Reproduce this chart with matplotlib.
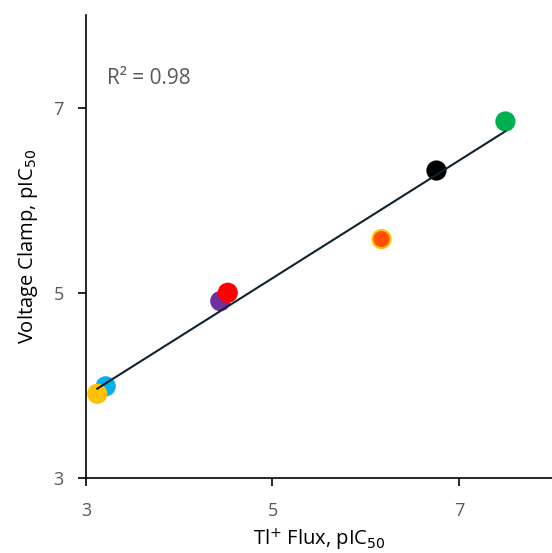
import numpy as np
import matplotlib.pyplot as plt

# pIC50 values
tl_flux = [3.21, 3.12, 4.44, 4.52, 6.17, 6.76, 7.50]
v_clamp = [3.99, 3.91, 4.91, 5.00, 5.58, 6.32, 6.85]
colors = ['#00b0f0', '#ffc000', '#7030a0', '#ff0000', '#ff5000', '#000000', '#00b050']
edges = ['#00b0f0', '#ffc000', '#7030a0', '#ff0000', '#ffc000', '#000000', '#00b050']
r2_label = 'R² = 0.98'

plt.rcParams['font.family'] = ['Open Sans', 'DejaVu Sans']

fig = plt.figure(figsize=(5.52, 5.53), dpi=100)
ax = fig.add_axes([0.156, 0.1356, 0.844, 0.8374])

x = np.array(tl_flux)
y = np.array(v_clamp)
ax.scatter(x, y, s=170, c=colors, edgecolors=edges, linewidths=1.5, zorder=2)

# linear fit over data range
k, b = np.polyfit(x, y, 1)
xs = np.array([x.min(), x.max()])
ax.plot(xs, k * xs + b, color='#10222e', lw=1.5, zorder=3)

ax.set_xlim(3, 8)
ax.set_ylim(3, 8)
ax.set_xticks([3, 5, 7])
ax.set_yticks([3, 5, 7])
for s in ['top', 'right']:
    ax.spines[s].set_visible(False)
for s in ['left', 'bottom']:
    ax.spines[s].set_linewidth(1.2)
ax.tick_params(direction='out', length=6, width=1.2, labelsize=13,
               labelcolor='#595959')
ax.tick_params(axis='x', pad=11)
ax.tick_params(axis='y', pad=10)

ax.set_xlabel('Tl$^{+}$ Flux, pIC$_{50}$', fontsize=14.5, labelpad=5)
ax.set_ylabel('Voltage Clamp, pIC$_{50}$', fontsize=14.5, labelpad=10)
ax.text(0.045, 0.862, r2_label, transform=ax.transAxes, fontsize=15,
        color='#595959', va='center')

fig.savefig('out.png', dpi=100)
